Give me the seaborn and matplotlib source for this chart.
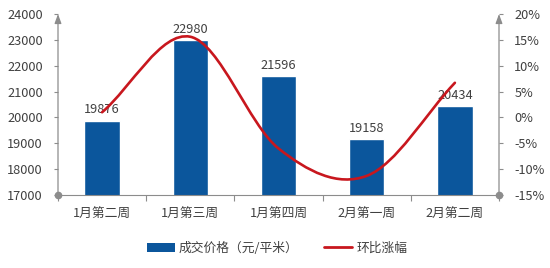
import numpy as np
import pandas as pd
import matplotlib
matplotlib.use("Agg")
import matplotlib.pyplot as plt
import seaborn as sns
from matplotlib.path import Path
from matplotlib.patches import PathPatch, Patch
from matplotlib.lines import Line2D
from matplotlib.ticker import FixedLocator, FuncFormatter

categories = ["1月第二周", "1月第三周", "1月第四周", "2月第一周", "2月第二周"]
prices = [19876, 22980, 21596, 19158, 20434]
change_pct = [1.0, 15.6, -6.0, -11.3, 6.7]
left_ticks = [17000, 18000, 19000, 20000, 21000, 22000, 23000, 24000]
right_ticks = [-15, -10, -5, 0, 5, 10, 15, 20]
bar_label = "成交价格（元/平米）"
line_label = "环比涨幅"

BLUE = "#0B569C"
RED = "#C8171E"
GRAY = "#8C8C8C"
TXT = "#404040"
FS = 9.2

sns.set_theme(style="white")
plt.rcParams["font.family"] = ["Noto Sans CJK SC", "DejaVu Sans"]
plt.rcParams["font.size"] = FS

fig = plt.figure(figsize=(5.5, 2.68), dpi=100)
ax = fig.add_axes([58 / 550, 1 - 195 / 268, (499 - 58) / 550, (195 - 14) / 268])

df = pd.DataFrame({"cat": categories, "price": prices})
sns.barplot(data=df, x="cat", y="price", color=BLUE, saturation=1, width=0.4, ax=ax)
ax.set_ylim(left_ticks[0], left_ticks[-1])
ax.set_xlim(-0.5, len(categories) - 0.5)
ax.set_xlabel("")
ax.set_ylabel("")
ax.yaxis.set_major_locator(FixedLocator(left_ticks))
ax.tick_params(axis="y", length=3, color=GRAY, width=0.8, pad=8, labelsize=FS, labelcolor=TXT, left=True)
ax.set_xticks(np.arange(len(categories)))
ax.set_xticklabels(categories)
ax.tick_params(axis="x", which="major", length=0, pad=9, labelsize=FS, labelcolor=TXT)
ax.set_xticks(np.arange(len(categories) + 1) - 0.5, minor=True)
ax.tick_params(axis="x", which="minor", length=4, color=GRAY, width=0.8, bottom=True)

for i, v in enumerate(prices):
    ax.annotate(f"{v}", (i, v), xytext=(0, 3), textcoords="offset points",
                ha="center", va="bottom", fontsize=FS, color=TXT)

for s in ["top", "left", "right"]:
    ax.spines[s].set_visible(False)
ax.spines["bottom"].set_color(GRAY)
ax.spines["bottom"].set_linewidth(0.8)

ax2 = ax.twinx()
ax2.set_ylim(right_ticks[0], right_ticks[-1])
ax2.yaxis.set_major_locator(FixedLocator(right_ticks))
ax2.yaxis.set_major_formatter(FuncFormatter(lambda v, p: f"{v:.0f}%"))
ax2.tick_params(axis="y", length=3, color=GRAY, width=0.8, pad=8, labelsize=FS, labelcolor=TXT, right=True)
for s in ["top", "left", "right", "bottom"]:
    ax2.spines[s].set_visible(False)
ax2.grid(False)
ax.grid(False)

# smoothed line (Catmull-Rom style bezier through data points)
xs = np.arange(len(change_pct), dtype=float)
ys = np.array(change_pct, dtype=float)
n = len(xs)
tx = np.zeros(n)
ty = np.zeros(n)
for i in range(n):
    a = max(i - 1, 0)
    b = min(i + 1, n - 1)
    tx[i] = (xs[b] - xs[a]) / (b - a)
    ty[i] = (ys[b] - ys[a]) / (b - a)
verts = [(xs[0], ys[0])]
codes = [Path.MOVETO]
for i in range(n - 1):
    verts += [(xs[i] + tx[i] / 3, ys[i] + ty[i] / 3),
              (xs[i + 1] - tx[i + 1] / 3, ys[i + 1] - ty[i + 1] / 3),
              (xs[i + 1], ys[i + 1])]
    codes += [Path.CURVE4] * 3
ax2.add_patch(PathPatch(Path(verts, codes), facecolor="none", edgecolor=RED, lw=1.9,
                        capstyle="round", zorder=5))

# axis arrows and dots
for xa in (0, 1):
    ax.annotate("", xy=(xa, 1.0), xytext=(xa, 0), xycoords="axes fraction",
                textcoords="axes fraction",
                arrowprops=dict(arrowstyle="-|>,head_length=0.6,head_width=0.22",
                                color=GRAY, lw=0.9, shrinkA=0, shrinkB=0),
                annotation_clip=False)
    ax.plot([xa], [0], marker="o", ms=4.5, color=GRAY, transform=ax.transAxes,
            clip_on=False, zorder=6)

handles = [Patch(facecolor=BLUE, edgecolor="none"),
           Line2D([0], [0], color=RED, lw=2.0)]
fig.legend(handles, [bar_label, line_label], loc="center", bbox_to_anchor=(277 / 550, 1 - 248 / 268),
           ncol=2, frameon=False, fontsize=FS, handlelength=2.2, handleheight=0.7,
           handletextpad=0.3, columnspacing=2.0, labelcolor=TXT)

fig.savefig("out.png", dpi=100, facecolor="white")
